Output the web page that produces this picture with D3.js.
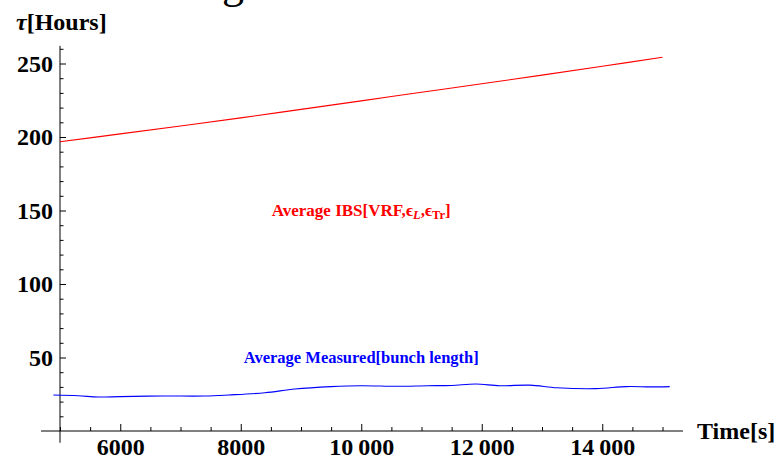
<!DOCTYPE html>
<html>
<head>
<meta charset="utf-8">
<script src="https://cdn.jsdelivr.net/npm/d3@7"></script>
<style>
  html, body { margin: 0; padding: 0; background: #fff; }
  svg { display: block; }
  text { font-family: "Liberation Serif", "Times New Roman", serif; }
</style>
</head>
<body>
<svg id="chart" width="784" height="462"></svg>
<script>
// ---- data ----
const xTicks = [6000, 8000, 10000, 12000, 14000];
const yTicks = [50, 100, 150, 200, 250];
const ibsTime = [5000, 6000, 7000, 8000, 9000, 10000, 11000, 12000, 13000, 14000, 15000];
const ibsTau  = [196.8, 202.1, 207.5, 213.0, 218.8, 224.6, 230.4, 236.2, 242.1, 248.1, 254.2];
const measTime = [4890, 5300, 5640, 6000, 6700, 7400, 7800, 8400, 8900, 9500, 10000, 10600, 11100, 11500, 11900, 12300, 12800, 13250, 13900, 14400, 14800, 15120];
const measTau  = [24.5, 24.0, 23.1, 23.4, 23.8, 23.8, 24.5, 26.0, 28.6, 30.2, 30.8, 30.4, 30.8, 31.0, 32.0, 30.8, 31.2, 29.4, 28.8, 30.2, 30.0, 30.2];
const labelIBS = {x: 10000, y: 150};
const labelMeas = {x: 10000, y: 50};

const svg = d3.select("#chart");
const x = d3.scaleLinear().domain([5000, 15000]).range([60, 662.5]);
const y = d3.scaleLinear().domain([0, 250]).range([431, 63.5]);

const fmt = v => v >= 10000 ? String(v).replace(/(\d+)(\d{3})$/, "$1\u2009$2") : String(v);

// title fragment (cut off at top)
svg.append("text").attr("x", 222).attr("y", -2)
  .attr("font-size", 44).attr("fill", "#000").text("g");

// x axis
svg.append("line")
  .attr("x1", x(4685)).attr("x2", x(15340)).attr("y1", y(0)).attr("y2", y(0))
  .attr("stroke", "#000").attr("stroke-width", 1);
const xMinor = d3.range(5000, 15001, 500).filter(v => v % 2000 !== 0);
const gxMinor = svg.append("g").attr("transform", `translate(0,${y(0)})`)
  .call(d3.axisBottom(x).tickValues(xMinor).tickSize(-4).tickSizeOuter(0).tickFormat(""));
gxMinor.select(".domain").remove();
const gx = svg.append("g").attr("transform", `translate(0,${y(0)})`)
  .call(d3.axisBottom(x).tickValues(xTicks).tickSize(-7).tickSizeOuter(0).tickPadding(7).tickFormat(fmt));
gx.select(".domain").remove();
gx.selectAll("text").attr("font-size", 24).attr("font-weight", "bold")
  .attr("font-family", "Liberation Serif, serif").attr("fill", "#000");

// y axis
svg.append("line")
  .attr("x1", x(5000)).attr("x2", x(5000)).attr("y1", y(262)).attr("y2", y(-8))
  .attr("stroke", "#000").attr("stroke-width", 1);
const yMinor = d3.range(10, 261, 10).filter(v => v % 50 !== 0);
const gyMinor = svg.append("g").attr("transform", `translate(${x(5000)},0)`)
  .call(d3.axisLeft(y).tickValues(yMinor).tickSize(-3.5).tickSizeOuter(0).tickFormat(""));
gyMinor.select(".domain").remove();
const gy = svg.append("g").attr("transform", `translate(${x(5000)},0)`)
  .call(d3.axisLeft(y).tickValues(yTicks).tickSize(-6).tickSizeOuter(0).tickPadding(7).tickFormat(fmt));
gy.select(".domain").remove();
gy.selectAll("text").attr("font-size", 24).attr("font-weight", "bold")
  .attr("font-family", "Liberation Serif, serif").attr("fill", "#000");
svg.selectAll(".tick line").attr("stroke", "#000");

// axis labels
const yl = svg.append("text").attr("x", 16).attr("y", 30)
  .attr("font-size", 24).attr("font-weight", "bold").attr("fill", "#000");
yl.append("tspan").attr("font-style", "italic").text("\u03C4");
yl.append("tspan").text("[Hours]");
svg.append("text").attr("x", 697).attr("y", 439)
  .attr("font-size", 24).attr("font-weight", "bold").attr("fill", "#000").text("Time[s]");

// lines
const ibsData = ibsTime.map((t, i) => [t, ibsTau[i]]);
const measData = measTime.map((t, i) => [t, measTau[i]]);
const line = d3.line().x(d => x(d[0])).y(d => y(d[1])).curve(d3.curveCatmullRom.alpha(0.5));
svg.append("path").datum(ibsData).attr("d", line)
  .attr("fill", "none").attr("stroke", "#ff0000").attr("stroke-width", 1.1);
svg.append("path").datum(measData).attr("d", line)
  .attr("fill", "none").attr("stroke", "#0000ff").attr("stroke-width", 1.1);

// in-plot labels
const t1 = svg.append("text").attr("x", x(labelIBS.x)).attr("y", y(labelIBS.y) + 5)
  .attr("text-anchor", "middle").attr("font-size", 17).attr("font-weight", "bold").attr("fill", "#ff0000");
t1.append("tspan").text("Average IBS[VRF,");
t1.append("tspan").text("\u03F5");
t1.append("tspan").attr("font-size", 12.5).attr("font-style", "italic").attr("dy", 3).text("L");
t1.append("tspan").attr("dy", -3).text(",");
t1.append("tspan").text("\u03F5");
t1.append("tspan").attr("font-size", 12.5).attr("dy", 3).text("Tr");
t1.append("tspan").attr("dy", -3).text("]");

svg.append("text").attr("x", x(labelMeas.x)).attr("y", y(labelMeas.y) + 5)
  .attr("text-anchor", "middle").attr("font-size", 16.5).attr("font-weight", "bold").attr("fill", "#0000ff")
  .text("Average Measured[bunch length]");
</script>
</body>
</html>
